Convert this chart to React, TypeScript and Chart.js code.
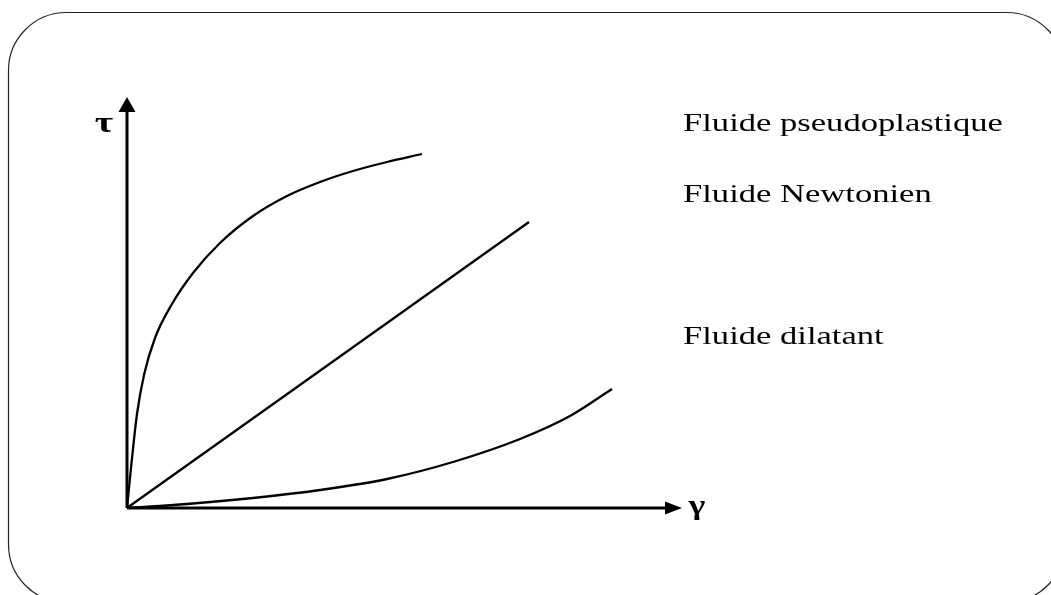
import React, { useEffect, useRef } from "react";
import { Chart, registerables } from "chart.js";

Chart.register(...registerables);

// Shear rate (γ) / shear stress (τ) readings for each fluid behaviour
const pseudoGamma = [0, 0.4, 1.0, 1.7, 2.8, 4.5, 6.6, 9.3, 12.6, 16.0, 19.3, 22.6, 26.0, 29.5];
const pseudoTau = [0, 4.0, 9.4, 13.3, 17.0, 20.4, 23.5, 26.5, 29.2, 31.2, 32.6, 33.7, 34.6, 35.4];

const newtonGamma = [0, 40.2];
const newtonTau = [0, 28.6];

const dilatGamma = [0, 6.0, 12.6, 19.3, 26.0, 32.6, 39.3, 44.3, 48.5];
const dilatTau = [0, 0.4, 1.0, 1.8, 2.9, 4.6, 6.9, 9.2, 11.9];

// Axis extents (arrow tips) in data units
const gammaAxisEnd = 55.5;
const tauAxisEnd = 41.1;

// Legend text and the τ value each label sits beside
const seriesLabels = ["Fluide pseudoplastique", "Fluide Newtonien", "Fluide dilatant"];
const labelTau = [37.7, 30.6, 16.4];

const axisTitleX = "γ";
const axisTitleY = "τ";

const toPoints = (xs: number[], ys: number[]) => xs.map((x, i) => ({ x, y: ys[i] }));

const W = 1051;
const H = 595;
const SERIF = '"Liberation Serif", "Times New Roman", serif';
const STRETCH = 1.33;

function stretchedText(
  ctx: CanvasRenderingContext2D,
  text: string,
  x: number,
  y: number,
  font: string,
  align: CanvasTextAlign = "left"
) {
  ctx.save();
  ctx.font = font;
  ctx.textAlign = align;
  ctx.textBaseline = "alphabetic";
  ctx.fillStyle = "#000";
  ctx.translate(x, y);
  ctx.scale(STRETCH, 1);
  ctx.fillText(text, 0, 0);
  ctx.restore();
}

const framePlugin = {
  id: "frame",
  beforeDraw(chart: any) {
    const ctx = chart.ctx as CanvasRenderingContext2D;
    ctx.save();
    ctx.fillStyle = "#fff";
    ctx.fillRect(0, 0, W, H);
    ctx.strokeStyle = "#222";
    ctx.lineWidth = 1.2;
    ctx.beginPath();
    (ctx as any).roundRect(8.5, 12.5, 1056, 590, 58);
    ctx.stroke();
    ctx.restore();
  },
};

const axesPlugin = {
  id: "arrowAxes",
  afterDatasetsDraw(chart: any) {
    const ctx = chart.ctx as CanvasRenderingContext2D;
    const xs = chart.scales.x;
    const ys = chart.scales.y;
    const ox = xs.getPixelForValue(0);
    const oy = ys.getPixelForValue(0);
    const xTip = xs.getPixelForValue(gammaAxisEnd);
    const yTip = ys.getPixelForValue(tauAxisEnd);

    ctx.save();
    ctx.strokeStyle = "#000";
    ctx.fillStyle = "#000";
    ctx.lineWidth = 3;
    ctx.beginPath();
    ctx.moveTo(ox, oy);
    ctx.lineTo(xTip - 12, oy);
    ctx.moveTo(ox, oy);
    ctx.lineTo(ox, yTip + 12);
    ctx.stroke();

    // arrow heads
    ctx.beginPath();
    ctx.moveTo(xTip, oy);
    ctx.lineTo(xTip - 17, oy - 6.5);
    ctx.lineTo(xTip - 17, oy + 6.5);
    ctx.closePath();
    ctx.fill();
    ctx.beginPath();
    ctx.moveTo(ox, yTip);
    ctx.lineTo(ox - 8.5, yTip + 15);
    ctx.lineTo(ox + 8.5, yTip + 15);
    ctx.closePath();
    ctx.fill();
    ctx.restore();

    stretchedText(ctx, axisTitleY, ox - 23, ys.getPixelForValue(tauAxisEnd - 3.5), `bold 30px ${SERIF}`, "center");
    stretchedText(ctx, axisTitleX, xTip + 15, oy + 6, `bold 27px ${SERIF}`, "center");

    seriesLabels.forEach((label, i) => {
      stretchedText(ctx, label, 683, ys.getPixelForValue(labelTau[i]), `26px ${SERIF}`);
    });
  },
};

export default function App() {
  const canvasRef = useRef<HTMLCanvasElement | null>(null);

  useEffect(() => {
    if (!canvasRef.current) return;
    const line = {
      borderColor: "#000",
      borderWidth: 2.3,
      pointRadius: 0,
      fill: false,
      cubicInterpolationMode: "monotone" as const,
    };
    const chart = new Chart(canvasRef.current, {
      type: "line",
      data: {
        datasets: [
          { label: seriesLabels[0], data: toPoints(pseudoGamma, pseudoTau), ...line },
          { label: seriesLabels[1], data: toPoints(newtonGamma, newtonTau), ...line },
          { label: seriesLabels[2], data: toPoints(dilatGamma, dilatTau), ...line },
        ],
      },
      options: {
        responsive: false,
        animation: false,
        layout: { padding: { left: 127, right: 324, top: 88, bottom: 87 } },
        plugins: { legend: { display: false }, tooltip: { enabled: false } },
        scales: {
          x: { type: "linear", min: 0, max: 60, display: false },
          y: { type: "linear", min: 0, max: 42, display: false },
        },
      },
      plugins: [framePlugin, axesPlugin],
    });
    return () => chart.destroy();
  }, []);

  return (
    <div style={{ position: "fixed", left: 0, top: 0, width: W, height: H, background: "#fff" }}>
      <canvas ref={canvasRef} width={W} height={H} style={{ display: "block" }} />
    </div>
  );
}
